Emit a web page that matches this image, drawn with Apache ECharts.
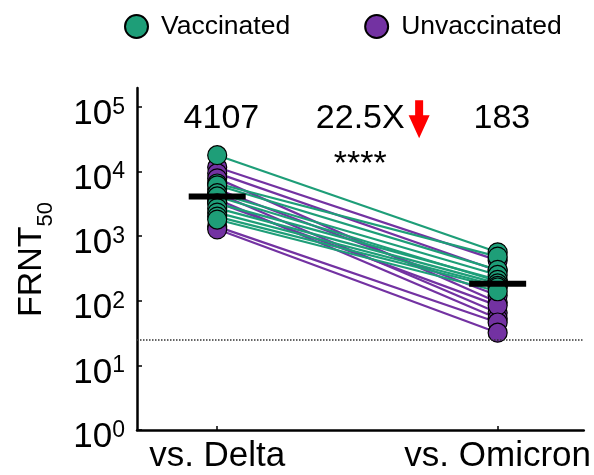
<!DOCTYPE html>
<html><head><meta charset="utf-8">
<script src="https://cdn.jsdelivr.net/npm/echarts@6/dist/echarts.min.js"></script>
<style>html,body{margin:0;padding:0;background:#fff}#c{width:594px;height:475px}</style>
</head><body><div id="c"></div>
<script>
const categories = ['vs. Delta', 'vs. Omicron'];
const vaccDelta    = [17800, 6500, 6100, 4600, 4100, 3200, 2700, 2300, 2000, 1800];
const vaccOmicron  = [560, 480, 300, 250, 200, 210, 185, 170, 160, 140];
const unvacDelta   = [11600, 9400, 7800, 5300, 4600, 3700, 3300, 1400, 1270];
const unvacOmicron = [420, 290, 95, 120, 65, 53, 84, 46, 32];
const medians = [4107, 183];
const medianLabels = ['4107', '183'];
const foldChange = '22.5X';
const significance = '****';
const detectionLimit = 25;
const yTicks = [1, 10, 100, 1000, 10000, 100000];

const GREEN = '#1E9E78', PURPLE = '#7332A2';
const FONT = 'Liberation Sans';

function pairLines(d, o) { return d.map((v, i) => ({ coords: [[1, v], [2, o[i]]] })); }
function points(d, o) { return d.map(v => [1, v]).concat(o.map(v => [2, v])); }

const chart = echarts.init(document.getElementById('c'), null, { renderer: 'canvas' });
chart.setOption({
  animation: false,
  textStyle: { fontFamily: FONT, color: '#000' },
  legend: {
    left: 119, top: 8, itemWidth: 23, itemHeight: 23, itemGap: 74,
    textStyle: { fontSize: 26.5, color: '#000', fontFamily: FONT, padding: [0, 0, 0, 8] },
    data: [
      { name: 'Vaccinated', icon: 'circle', itemStyle: { color: GREEN, borderColor: '#000', borderWidth: 2 } },
      { name: 'Unvaccinated', icon: 'circle', itemStyle: { color: PURPLE, borderColor: '#000', borderWidth: 2 } }
    ]
  },
  grid: { left: 137, right: 0, top: 88, bottom: 45 },
  xAxis: {
    type: 'value', min: 0.714, max: 2.307,
    splitLine: { show: false },
    axisLine: { lineStyle: { color: '#000', width: 2.5 } },
    axisTick: { inside: true, length: 4, customValues: [1, 2], lineStyle: { color: '#000', width: 1.5 } },
    axisLabel: { customValues: [1, 2], formatter: v => categories[Math.round(v) - 1], fontSize: 35, color: '#000', fontFamily: FONT, margin: 9 }
  },
  yAxis: {
    type: 'log', logBase: 10, min: 1, max: 195000,
    splitLine: { show: false },
    axisLine: { show: true, lineStyle: { color: '#000', width: 2.5 } },
    axisTick: { show: true, inside: true, length: 5, customValues: yTicks, lineStyle: { color: '#000', width: 1.5 } },
    axisLabel: {
      customValues: yTicks, margin: 12, padding: [14, 0, 0, 0],
      formatter: v => '{b|10}{s|' + Math.round(Math.log10(v)) + '}',
      rich: {
        b: { fontSize: 35, color: '#000', fontFamily: FONT, lineHeight: 36, verticalAlign: 'bottom' },
        s: { fontSize: 23, color: '#000', fontFamily: FONT, verticalAlign: 'top', lineHeight: 22, padding: [0, 0, 20, 0] }
      }
    },
    name: '{a|FRNT}{b|50}{c| }', nameLocation: 'middle', nameRotate: 90, nameGap: 80,
    nameTextStyle: {
      rich: {
        a: { fontSize: 34, color: '#000', fontFamily: FONT, lineHeight: 36, verticalAlign: 'top' },
        b: { fontSize: 22, color: '#000', fontFamily: FONT, lineHeight: 22, verticalAlign: 'bottom' },
        c: { fontSize: 4, lineHeight: 42, verticalAlign: 'middle' }
      }
    }
  },
  series: [
    { name: 'Unvaccinated', type: 'lines', coordinateSystem: 'cartesian2d', z: 2, silent: true,
      lineStyle: { color: PURPLE, width: 2.2, opacity: 1 }, data: pairLines(unvacDelta, unvacOmicron) },
    { name: 'Vaccinated', type: 'lines', coordinateSystem: 'cartesian2d', z: 2, silent: true,
      lineStyle: { color: GREEN, width: 2.2, opacity: 1 }, data: pairLines(vaccDelta, vaccOmicron) },
    { name: 'Unvaccinated', type: 'scatter', z: 3, symbolSize: 19,
      itemStyle: { color: PURPLE, borderColor: '#000', borderWidth: 1.2, opacity: 1 }, data: points(unvacDelta, unvacOmicron) },
    { name: 'Vaccinated', type: 'scatter', z: 4, symbolSize: 19,
      itemStyle: { color: GREEN, borderColor: '#000', borderWidth: 1.2, opacity: 1 }, data: points(vaccDelta, vaccOmicron) },
    { name: 'median', type: 'scatter', z: 5, symbol: 'rect', symbolSize: [57, 6],
      itemStyle: { color: '#000', opacity: 1 }, data: medians.map((m, i) => [i + 1, m]),
      markLine: { silent: true, symbol: 'none', label: { show: false },
        lineStyle: { type: 'dotted', color: '#333', width: 1.5 }, data: [{ yAxis: detectionLimit }] } },
    { name: 'annot', type: 'scatter', z: 6, symbolSize: 0, silent: true,
      itemStyle: { opacity: 1 },
      label: { show: true, position: 'inside', formatter: p => p.data[2], fontSize: 34, color: '#000', fontFamily: FONT },
      data: [[1.015, 66000, medianLabels[0]], [2.015, 66000, medianLabels[1]], [1.51, 66000, foldChange], [1.51, 12900, significance]] },
    { name: 'arrow', type: 'scatter', z: 6, silent: true,
      symbol: 'path://M6.5,0 L14.5,0 L14.5,15 L21,15 L10.5,38 L0,15 L6.5,15 Z', symbolSize: [21, 38],
      itemStyle: { color: '#FF0000', opacity: 1 }, data: [[1.72, 64000]] }
  ]
});
</script>
</body></html>
